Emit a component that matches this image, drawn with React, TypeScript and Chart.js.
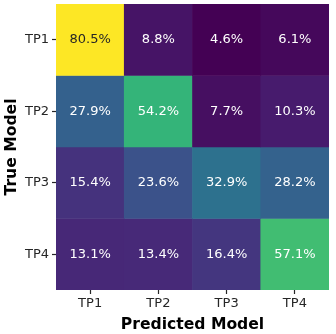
import React, { useEffect, useRef } from "react";
import { Chart, registerables } from "chart.js";

Chart.register(...registerables);

const predictedLabels = ["TP1", "TP2", "TP3", "TP4"];
const trueLabels = ["TP1", "TP2", "TP3", "TP4"];
const rowTP1 = [80.5, 8.8, 4.6, 6.1];
const rowTP2 = [27.9, 54.2, 7.7, 10.3];
const rowTP3 = [15.4, 23.6, 32.9, 28.2];
const rowTP4 = [13.1, 13.4, 16.4, 57.1];
const rows = [rowTP1, rowTP2, rowTP3, rowTP4];

const viridis = [
  "#440154", "#482475", "#414487", "#355f8d", "#2a788e", "#21918c",
  "#22a884", "#44bf70", "#7ad151", "#bddf26", "#fde725",
];

function hexToRgb(h: string) {
  const n = parseInt(h.slice(1), 16);
  return [(n >> 16) & 255, (n >> 8) & 255, n & 255];
}

function colorFor(t: number) {
  const c = Math.max(0, Math.min(1, t)) * (viridis.length - 1);
  const i = Math.min(viridis.length - 2, Math.floor(c));
  const f = c - i;
  const a = hexToRgb(viridis[i]);
  const b = hexToRgb(viridis[i + 1]);
  const r = a.map((v, k) => Math.round(v + (b[k] - v) * f));
  return `rgb(${r[0]},${r[1]},${r[2]})`;
}

const FONT = "'DejaVu Sans', sans-serif";

export default function App() {
  const ref = useRef<HTMLCanvasElement | null>(null);
  useEffect(() => {
    const all = rows.flat();
    const vmin = Math.min(...all);
    const vmax = Math.max(...all);
    const norm = (v: number) => (v - vmin) / (vmax - vmin);

    const labelPlugin = {
      id: "cellLabels",
      afterDatasetsDraw(chart: any) {
        const ctx = chart.ctx;
        ctx.save();
        ctx.font = `13px ${FONT}`;
        ctx.textAlign = "center";
        ctx.textBaseline = "middle";
        chart.data.datasets.forEach((ds: any, di: number) => {
          const meta = chart.getDatasetMeta(di);
          meta.data.forEach((el: any, j: number) => {
            const v = rows[di][j];
            ctx.fillStyle = norm(v) > 0.75 ? "#262626" : "#ffffff";
            ctx.fillText(v.toFixed(1) + "%", el.x, (el.y + el.base) / 2);
          });
        });
        ctx.restore();
      },
    };

    const chart = new Chart(ref.current as HTMLCanvasElement, {
      type: "bar",
      data: {
        labels: predictedLabels,
        datasets: rows.map((row, i) => ({
          label: trueLabels[i],
          data: row.map(() => [i, i + 1]),
          backgroundColor: row.map((v) => colorFor(norm(v))),
          borderWidth: 0,
          barPercentage: 1,
          categoryPercentage: 1,
          grouped: false,
        })) as any,
      },
      options: {
        animation: false,
        responsive: true,
        maintainAspectRatio: false,
        layout: { padding: { top: 4, right: 7, left: 0, bottom: 0 } },
        plugins: { legend: { display: false }, tooltip: { enabled: false } },
        scales: {
          x: {
            type: "category",
            offset: true,
            grid: {
              offset: false,
              drawOnChartArea: false,
              drawTicks: true,
              tickLength: 4,
              tickColor: "#262626",
              tickWidth: 1.2,
            },
            border: { display: false },
            ticks: { font: { family: FONT, size: 13 }, color: "#262626", padding: 2 },
            title: {
              display: true,
              text: "Predicted Model",
              font: { family: FONT, size: 15.6, weight: "bold" },
              color: "#000",
              padding: { top: 0, bottom: 0 },
            },
            afterFit: (s: any) => {
              s.height = 44;
              s.paddingLeft = 0;
              s.paddingRight = 0;
            },
          },
          y: {
            type: "linear",
            min: 0,
            max: 4,
            reverse: true,
            grid: {
              drawOnChartArea: false,
              drawTicks: true,
              tickLength: 4,
              tickColor: "#262626",
              tickWidth: 1.2,
            },
            border: { display: false },
            afterBuildTicks: (s: any) => {
              s.ticks = [0.5, 1.5, 2.5, 3.5].map((v) => ({ value: v }));
            },
            ticks: {
              font: { family: FONT, size: 13 },
              color: "#262626",
              padding: 3,
              callback: (v: any) => trueLabels[Math.floor(Number(v))],
            },
            title: {
              display: true,
              text: "True Model",
              font: { family: FONT, size: 15.6, weight: "bold" },
              color: "#000",
              padding: { top: 3, bottom: 0 },
            },
            afterFit: (s: any) => {
              s.width = 56;
              s.paddingTop = 0;
              s.paddingBottom = 0;
            },
          },
        },
      },
      plugins: [labelPlugin],
    });
    return () => chart.destroy();
  }, []);
  return (
    <div style={{ position: "fixed", left: 0, top: 0, width: 336, height: 334, background: "#fff" }}>
      <canvas ref={ref} />
    </div>
  );
}
